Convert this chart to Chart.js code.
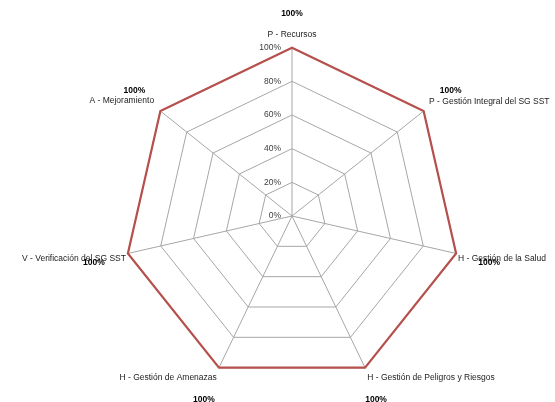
<!DOCTYPE html>
<html>
<head>
<meta charset="utf-8">
<script src="https://cdn.jsdelivr.net/npm/chart.js@4.4.1/dist/chart.umd.min.js"></script>
<style>
  html, body { margin: 0; padding: 0; background: #fff; }
</style>
</head>
<body>
<canvas id="radarSST" width="555" height="402"></canvas>
<script>
// Datos del gráfico
const categorias = [
  'P - Recursos',
  'P - Gestión Integral del SG SST',
  'H - Gestión de la Salud',
  'H - Gestión de Peligros y Riesgos',
  'H - Gestión de Amenazas',
  'V - Verificación del SG SST',
  'A - Mejoramiento'
];
const cumplimiento = [100, 100, 100, 100, 100, 100, 100];
const etiquetasEje = ['0%', '20%', '40%', '60%', '80%', '100%'];

// separación de cada etiqueta de categoría y desplazamiento de las etiquetas de valor
const separaciones = [8, 7, 2, 5, 5, 2, 8];
const desplazamientos = [[0, -34], [27, -20], [33, 9], [11, 32], [-15, 32], [-34, 9], [-26, -20]];

const fuente = '"Liberation Sans", Arial, sans-serif';

// Etiquetas del eje (incluye 0%) y etiquetas de valor
const textosPlugin = {
  id: 'textos',
  afterDatasetsDraw(chart) {
    const r = chart.scales.r;
    const ctx = chart.ctx;
    ctx.save();
    ctx.font = '8.5px ' + fuente;
    ctx.fillStyle = '#404040';
    ctx.textAlign = 'right';
    ctx.textBaseline = 'middle';
    r.ticks.forEach((t, i) => {
      const d = r.getDistanceFromCenterForValue(t.value);
      ctx.fillText(etiquetasEje[i], r.xCenter - 11, r.yCenter - d);
    });
    ctx.font = 'bold 8.5px ' + fuente;
    ctx.fillStyle = '#000';
    ctx.textAlign = 'center';
    chart.getDatasetMeta(0).data.forEach((pt, i) => {
      const [dx, dy] = desplazamientos[i];
      ctx.fillText(cumplimiento[i] + '%', pt.x + dx, pt.y + dy);
    });
    ctx.restore();
  }
};

const ctx = document.getElementById('radarSST').getContext('2d');
const radarSST = new Chart(ctx, {
  type: 'radar',
  data: {
    labels: categorias,
    datasets: [{
      label: 'Cumplimiento',
      data: cumplimiento,
      fill: false,
      borderColor: '#b5504d',
      borderWidth: 2.2,
      pointRadius: 0,
      tension: 0
    }]
  },
  options: {
    responsive: false,
    animation: false,
    layout: { padding: { left: 15, right: 0, top: 17, bottom: 5 } },
    plugins: {
      legend: { display: false },
      tooltip: { enabled: false }
    },
    scales: {
      r: {
        min: 0,
        max: 100,
        ticks: { display: false, stepSize: 20 },
        grid: { color: '#a6a6a6', lineWidth: 1 },
        angleLines: { color: '#a6a6a6', lineWidth: 1 },
        pointLabels: {
          color: '#222',
          padding: (c) => separaciones[c.index],
          font: { family: fuente, size: 8.5 }
        }
      }
    }
  },
  plugins: [textosPlugin]
});
</script>
</body>
</html>
